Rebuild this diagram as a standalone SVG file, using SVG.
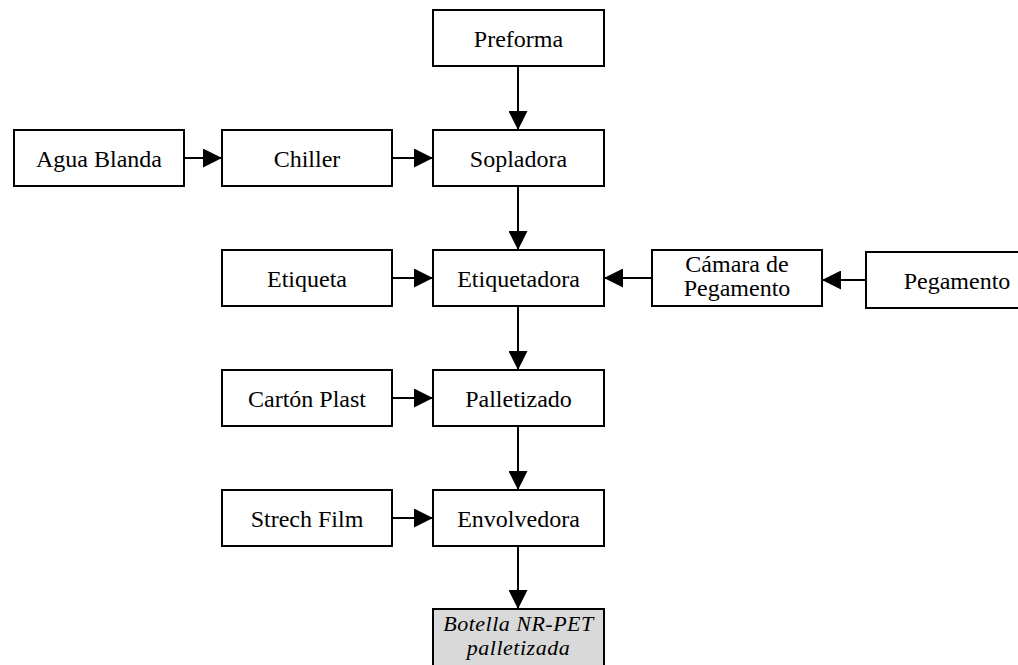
<svg xmlns="http://www.w3.org/2000/svg" width="1018" height="665" viewBox="0 0 1018 665">
<style>
.box{fill:#fff;stroke:#000;stroke-width:2}
.out{fill:#d9d9d9;stroke:#000;stroke-width:2}
.t{font-family:"Liberation Serif","DejaVu Serif",serif;font-size:24px;fill:#000;text-anchor:middle}
.it{font-style:italic;font-size:22px;letter-spacing:0.5px}
.c{stroke:#000;stroke-width:2;fill:none;marker-end:url(#ah)}
</style>
<defs>
<marker id="ah" viewBox="0 0 10 10" refX="10" refY="5" markerWidth="9.5" markerHeight="9.5" markerUnits="strokeWidth" orient="auto">
<path d="M0,0 L10,5 L0,10 Z" fill="#000"/>
</marker>
</defs>
<rect width="1018" height="665" fill="#fff"/>
<g id="connectors">
<line class="c" x1="518" y1="66" x2="518" y2="130"/>
<line class="c" x1="184" y1="158" x2="222" y2="158"/>
<line class="c" x1="392" y1="158" x2="433" y2="158"/>
<line class="c" x1="518" y1="186" x2="518" y2="250"/>
<line class="c" x1="392" y1="278" x2="433" y2="278"/>
<line class="c" x1="652" y1="278" x2="604" y2="278"/>
<line class="c" x1="866" y1="280" x2="822" y2="280"/>
<line class="c" x1="518" y1="306" x2="518" y2="370"/>
<line class="c" x1="392" y1="398" x2="433" y2="398"/>
<line class="c" x1="518" y1="426" x2="518" y2="490"/>
<line class="c" x1="392" y1="518" x2="433" y2="518"/>
<line class="c" x1="518" y1="546" x2="518" y2="609"/>
</g>
<g id="preforma"><rect class="box" x="433" y="10" width="171" height="56"/><text class="t" x="518.5" y="47">Preforma</text></g>
<g id="agua-blanda"><rect class="box" x="14" y="130" width="170" height="56"/><text class="t" x="99" y="167">Agua Blanda</text></g>
<g id="chiller"><rect class="box" x="222" y="130" width="170" height="56"/><text class="t" x="307" y="167">Chiller</text></g>
<g id="sopladora"><rect class="box" x="433" y="130" width="171" height="56"/><text class="t" x="518.5" y="167">Sopladora</text></g>
<g id="etiqueta"><rect class="box" x="222" y="250" width="170" height="56"/><text class="t" x="307" y="287">Etiqueta</text></g>
<g id="etiquetadora"><rect class="box" x="433" y="250" width="171" height="56"/><text class="t" x="518.5" y="287">Etiquetadora</text></g>
<g id="camara"><rect class="box" x="652" y="250" width="170" height="56"/><text class="t" x="737" y="272">Cámara de</text><text class="t" x="737" y="296">Pegamento</text></g>
<g id="pegamento"><rect class="box" x="866" y="252" width="182" height="56"/><text class="t" x="957" y="289">Pegamento</text></g>
<g id="carton-plast"><rect class="box" x="222" y="370" width="170" height="56"/><text class="t" x="307" y="407">Cartón Plast</text></g>
<g id="palletizado"><rect class="box" x="433" y="370" width="171" height="56"/><text class="t" x="518.5" y="407">Palletizado</text></g>
<g id="strech-film"><rect class="box" x="222" y="490" width="170" height="56"/><text class="t" x="307" y="527">Strech Film</text></g>
<g id="envolvedora"><rect class="box" x="433" y="490" width="171" height="56"/><text class="t" x="518.5" y="527">Envolvedora</text></g>
<g id="botella"><rect class="out" x="433" y="609" width="171" height="60"/><text class="t it" x="518.5" y="631">Botella NR-PET</text><text class="t it" x="518.5" y="655">palletizada</text></g>
</svg>
